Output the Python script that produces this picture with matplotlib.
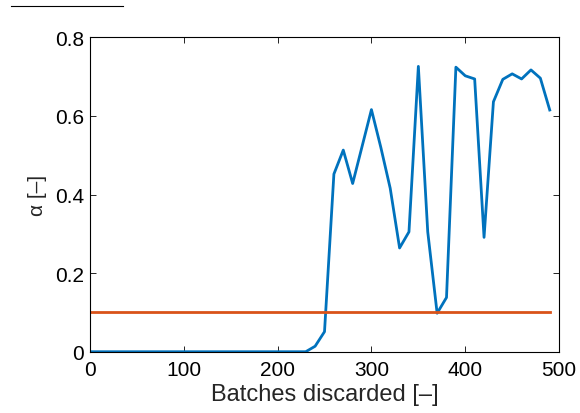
import matplotlib
matplotlib.use("Agg")
import matplotlib.pyplot as plt
from matplotlib.lines import Line2D

batches = list(range(0, 500, 10))
alpha = [0.0] * 24 + [0.014, 0.051, 0.452, 0.513, 0.428, 0.522, 0.616, 0.520, 0.416, 0.264,
                      0.305, 0.726, 0.305, 0.098, 0.138, 0.724, 0.702, 0.694, 0.291, 0.636,
                      0.693, 0.707, 0.694, 0.717, 0.696, 0.615]
threshold = [0.1] * len(batches)

plt.rcParams['font.family'] = ['Liberation Sans', 'DejaVu Sans']

fig = plt.figure(figsize=(5.8, 4.14), dpi=100)
ax = fig.add_axes([0.155, 0.148, 0.809, 0.7595])
ax.plot(batches, alpha, color='#0072BD', lw=2.0)
ax.plot(batches, threshold, color='#D95319', lw=2.0)
ax.set_xlim(0, 500)
ax.set_ylim(0, 0.8)
ax.set_xticks([0, 100, 200, 300, 400, 500])
ax.set_yticks([0, 0.2, 0.4, 0.6, 0.8])
ax.set_yticklabels(['0', '0.2', '0.4', '0.6', '0.8'])
ax.tick_params(direction='in', top=True, right=True, labelsize=15, length=4, width=0.6)
ax.tick_params(axis='x', pad=6)
ax.tick_params(axis='y', pad=4)
for s in ax.spines.values():
    s.set_linewidth(0.8)
ax.set_xlabel('Batches discarded [–]', fontsize=17, color='#262626', labelpad=3)
ax.set_ylabel('α [–]', fontsize=15, color='#262626', labelpad=6)

fig.add_artist(Line2D([11/580, 123/580], [1 - 7/414, 1 - 7/414], color='black', lw=0.8,
                      transform=fig.transFigure))

fig.savefig('out.png', dpi=100)
